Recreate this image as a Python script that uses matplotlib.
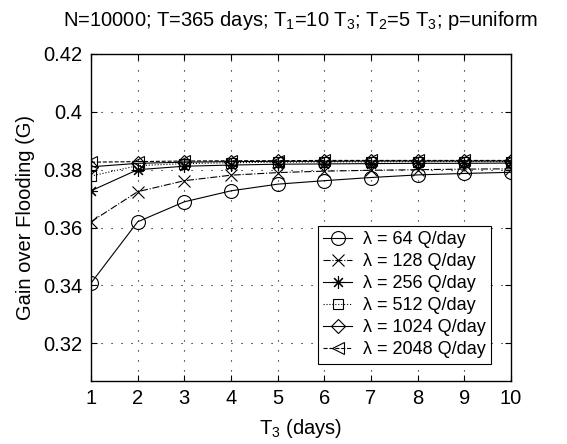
import matplotlib
matplotlib.use('Agg')
import matplotlib.pyplot as plt
import numpy as np

plt.rcParams['font.family'] = ['Liberation Sans', 'DejaVu Sans']
plt.rcParams['mathtext.fontset'] = 'custom'
plt.rcParams['mathtext.rm'] = 'Liberation Sans'
plt.rcParams['mathtext.it'] = 'Liberation Sans'

t3 = [1, 2, 3, 4, 5, 6, 7, 8, 9, 10]
g64 = [0.3408, 0.3620, 0.3689, 0.3727, 0.3750, 0.3762, 0.3773, 0.3782, 0.3787, 0.3791]
g128 = [0.3620, 0.3724, 0.3762, 0.3781, 0.3790, 0.3795, 0.3798, 0.3800, 0.3802, 0.3803]
g256 = [0.3727, 0.3800, 0.3812, 0.3816, 0.3819, 0.3820, 0.3821, 0.3822, 0.3822, 0.3823]
g512 = [0.3778, 0.3814, 0.3821, 0.3824, 0.3826, 0.3827, 0.3827, 0.3828, 0.3828, 0.3828]
g1024 = [0.3810, 0.3822, 0.3826, 0.3828, 0.3829, 0.3829, 0.3830, 0.3830, 0.3830, 0.3830]
g2048 = [0.3826, 0.3828, 0.3830, 0.3831, 0.3831, 0.3832, 0.3832, 0.3832, 0.3832, 0.3832]
labels = ['λ = 64 Q/day', 'λ = 128 Q/day', 'λ = 256 Q/day',
          'λ = 512 Q/day', 'λ = 1024 Q/day', 'λ = 2048 Q/day']

fig = plt.figure(figsize=(5.67, 4.44), dpi=100)
ax = fig.add_axes([0.1605, 0.142, 0.7405, 0.7365])

# marker, linestyle, marker size
styles = [('o', '-', 10), ('x', '-.', 8), ((8, 2, 0), '-', 9),
          ('s', ':', 7), ('D', '-', 7), ('<', '--', 9)]
series = [g64, g128, g256, g512, g1024, g2048]
for g, (m, ls, ms), lab in zip(series, styles, labels):
    ax.plot(t3, g, color='k', linestyle=ls, marker=m, markersize=ms,
            markerfacecolor='none', markeredgewidth=0.8, linewidth=0.8, label=lab)

ax.set_xlim(1, 10)
ax.set_ylim(0.307, 0.42)
ax.set_xticks(t3)
ax.set_yticks([0.32, 0.34, 0.36, 0.38, 0.4, 0.42])
ax.set_yticklabels(['0.32', '0.34', '0.36', '0.38', '0.4', '0.42'])
ax.tick_params(direction='in', labelsize=14.5, length=4, top=True, right=True, pad=6)
ax.grid(True, color='k', linestyle=(0, (1, 8)), linewidth=0.8)
for s in ax.spines.values():
    s.set_linewidth(1.0)

ax.set_xlabel('T$_3$ (days)', fontsize=14.5, labelpad=6)
ax.set_ylabel('Gain over Flooding (G)', fontsize=14.5, labelpad=6)
ax.set_title('N=10000; T=365 days; T$_1$=10 T$_3$; T$_2$=5 T$_3$; p=uniform',
             fontsize=14.5, pad=20)

leg = ax.legend(loc='lower right', bbox_to_anchor=(0.975, 0.025), fontsize=13,
                frameon=True, fancybox=False, edgecolor='k', framealpha=1,
                handlelength=1.6, borderpad=0.3, labelspacing=0.28, handletextpad=0.6)
leg.get_frame().set_linewidth(0.8)

fig.savefig('out.png', dpi=100)
